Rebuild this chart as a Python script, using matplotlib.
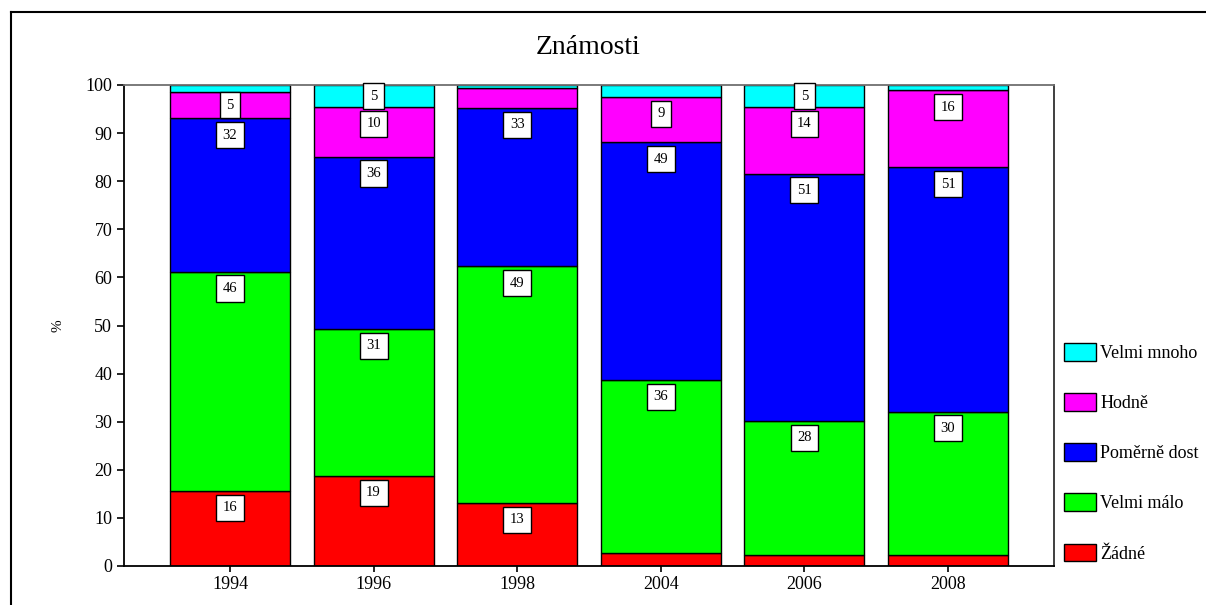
import matplotlib
matplotlib.use("Agg")
import matplotlib.pyplot as plt
from matplotlib.lines import Line2D
from matplotlib.patches import Patch

years = ["1994", "1996", "1998", "2004", "2006", "2008"]
series_names = ["Žádné", "Velmi málo", "Poměrně dost", "Hodně", "Velmi mnoho"]
zadne = [15.6, 18.7, 13.1, 2.7, 2.3, 2.3]
velmi_malo = [45.6, 30.6, 49.2, 36.0, 27.9, 29.8]
pomerne_dost = [31.9, 35.8, 32.9, 49.4, 51.4, 50.8]
hodne = [5.4, 10.3, 4.2, 9.4, 13.8, 16.0]
velmi_mnoho = [1.5, 4.6, 0.6, 2.5, 4.6, 1.1]
colors = ["#FF0000", "#00FF00", "#0000FF", "#FF00FF", "#00FFFF"]

plt.rcParams["font.family"] = ["Liberation Serif", "DejaVu Serif"]

fig = plt.figure(figsize=(12.06, 6.05), dpi=100)
ax = fig.add_axes([124/1206, 1-566/605, (1054-124)/1206, (566-85)/605])

data = [zadne, velmi_malo, pomerne_dost, hodne, velmi_mnoho]
x = list(range(len(years)))
bottoms = [0.0]*len(years)
width = 0.836
for name, vals, col in zip(series_names, data, colors):
    ax.bar(x, vals, width, bottom=bottoms, color=col, edgecolor="black",
           linewidth=1.0, label=name, zorder=2)
    for i, v in enumerate(vals):
        top = bottoms[i] + v
        if v >= 4.5:
            y = max(top - 3.5, bottoms[i] + v/2)
            ax.text(x[i], y, f"{round(v):d}", ha="center", va="center",
                    fontsize=10.5, zorder=5,
                    bbox=dict(boxstyle="square,pad=0.45", fc="white",
                              ec="black", lw=1.0))
    bottoms = [b + v for b, v in zip(bottoms, vals)]

ax.set_xlim(-0.738, 5.738)
ax.set_ylim(0, 100)
ax.set_yticks(range(0, 101, 10))
ax.set_xticks(x)
ax.set_xticklabels(years)
ax.tick_params(axis="both", labelsize=13, direction="out", length=5, width=1.2,
               colors="black")
ax.tick_params(axis="x", length=4)
ax.set_ylabel("%", fontsize=11, labelpad=15)
for s in ["left", "bottom"]:
    ax.spines[s].set_linewidth(1.3)
    ax.spines[s].set_color("black")
ax.spines["top"].set_color("#707070")
ax.spines["top"].set_linewidth(1.3)
ax.spines["right"].set_color("#303030")
ax.spines["right"].set_linewidth(1.3)

fig.text(588/1206, 1-48/605, "Známosti", ha="center", va="center", fontsize=20)

# outer frame lines
fig.add_artist(Line2D([11/1206, 1.0], [1-12/605, 1-12/605], color="black", lw=1.5,
                      transform=fig.transFigure))
fig.add_artist(Line2D([11/1206, 11/1206], [0, 1-12/605], color="black", lw=1.5,
                      transform=fig.transFigure))

handles = [Patch(facecolor=c, edgecolor="black", linewidth=1.0, label=n)
           for n, c in zip(series_names, colors)][::-1]
fig.legend(handles=handles, loc="upper left", bbox_to_anchor=(1064/1206, 1-343/605),
           frameon=False, fontsize=13, handlelength=1.75, handleheight=1.15,
           handletextpad=0.25, labelspacing=1.72, borderpad=0, borderaxespad=0)

fig.savefig("out.png", dpi=100)
